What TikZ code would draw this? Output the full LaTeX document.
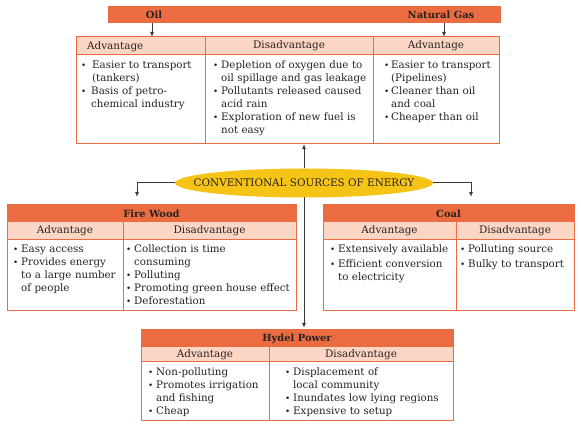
\documentclass[tikz,border=0pt]{standalone}
\usepackage{fontspec}
\setmainfont{DejaVu Serif}
\usetikzlibrary{arrows.meta,shapes.geometric}
\definecolor{orng}{RGB}{236,108,66}
\definecolor{pnk}{RGB}{252,214,196}
\definecolor{yel}{RGB}{246,196,22}
\definecolor{ink}{RGB}{40,34,34}
\newcommand{\myitem}[2][8pt]{\par\hangindent=#1\hangafter=1\noindent\makebox[#1][l]{\raisebox{0.1ex}{\scalebox{0.85}{\textbullet}}}#2}
\tikzset{
  cell/.style={draw=orng, line width=1pt, inner sep=0pt, outer sep=0pt, anchor=north west},
  hd/.style={cell, fill=pnk},
  ttl/.style={cell, fill=orng},
  body/.style={anchor=north west, inner sep=0pt, text=ink, align=left, text width=210pt,
    font=\fontsize{10.3}{13}\selectfont},
  hdtext/.style={inner sep=0pt, text=ink, font=\fontsize{10.4}{12}\selectfont},
  ttltext/.style={inner sep=0pt, text=ink, font=\bfseries\fontsize{9.9}{11}\selectfont},
  arr/.style={-{Latex[length=5pt,width=4pt]}, line width=1pt, draw=ink!90}
}
\begin{document}
\begin{tikzpicture}[x=1pt,y=-1pt]
\fill[white] (0,0) rectangle (581,427);
\useasboundingbox (0,0) rectangle (581,427);

% ---------- top bar and top table ----------
\node[ttl, minimum width=392pt, minimum height=16pt] (topbar) at (108,7) {};
\node[ttltext] (oiltxt) at (154,15) {Oil};
\node[ttltext] (gastxt) at (441,15) {Natural Gas};

\node[hd, minimum width=129pt, minimum height=18pt] (oilhd) at (76,37) {};
\node[hd, minimum width=168pt, minimum height=18pt] (dishd) at (205,37) {};
\node[hd, minimum width=126pt, minimum height=18pt] (gashd) at (373,37) {};
\node[cell, minimum width=129pt, minimum height=89pt] (oilbd) at (76,55) {};
\node[cell, minimum width=168pt, minimum height=89pt] (disbd) at (205,55) {};
\node[cell, minimum width=126pt, minimum height=89pt] (gasbd) at (373,55) {};

\node[hdtext, anchor=west] (oilhdl) at (87,46.5) {Advantage};
\node[hdtext] (dishdl) at (dishd.center) {Disadvantage};
\node[hdtext] (gashdl) at (gashd.center) {Advantage};

\node[body] (oiltx) at (81,55.5) {\myitem[11pt]{Easier to transport\newline(tankers)}\myitem[10pt]{Basis of petro-\newline chemical industry}\par};
\node[body] (distx) at (213,55.5) {\myitem{Depletion of oxygen due to\newline oil spillage and gas leakage}\myitem{Pollutants released caused\newline acid rain}\myitem{Exploration of new fuel is\newline not easy}\par};
\node[body] (gastx) at (384,55.5) {\myitem[7pt]{Easier to transport\newline (Pipelines)}\myitem[7pt]{Cleaner than oil\newline and coal}\myitem[7pt]{Cheaper than oil}\par};

\coordinate (oilx) at (152,0);
\coordinate (gasx) at (444,0);
\draw[arr] (topbar.south -| oilx) -- (oilhd.north -| oilx);
\draw[arr] (topbar.south -| gasx) -- (gashd.north -| gasx);

% ---------- ellipse ----------
\node[ellipse, fill=yel, minimum width=258pt, minimum height=29pt, inner sep=0pt, outer sep=0pt] (ell) at (304,183) {};
\node[inner sep=0pt, text=ink, font=\fontsize{10.4}{12}\selectfont] (elltxt) at (ell.center) {CONVENTIONAL SOURCES OF ENERGY};

% ---------- Fire Wood ----------
\node[ttl, minimum width=289pt, minimum height=17pt] (fwtt) at (7,205) {};
\node[hd, minimum width=116pt, minimum height=18pt] (fwahd) at (7,222) {};
\node[hd, minimum width=173pt, minimum height=18pt] (fwdhd) at (123,222) {};
\node[cell, minimum width=116pt, minimum height=71pt] (fwabd) at (7,240) {};
\node[cell, minimum width=173pt, minimum height=71pt] (fwdbd) at (123,240) {};
\node[ttltext] (fwttl) at (fwtt.center) {Fire Wood};
\node[hdtext] (fwahdl) at (fwahd.center) {Advantage};
\node[hdtext] (fwdhdl) at (fwdhd.center) {Disadvantage};
\node[body] (fwatx) at (13,239.5) {\myitem{Easy access}\myitem{Provides energy\newline to a large number\newline of people}\par};
\node[body] (fwdtx) at (126,239.5) {\myitem{Collection is time\newline consuming}\myitem{Polluting}\myitem{Promoting green house effect}\myitem{Deforestation}\par};

% ---------- Coal ----------
\node[ttl, minimum width=251pt, minimum height=17pt] (cltt) at (323,205) {};
\node[hd, minimum width=133pt, minimum height=18pt] (clahd) at (323,222) {};
\node[hd, minimum width=118pt, minimum height=18pt] (cldhd) at (456,222) {};
\node[cell, minimum width=133pt, minimum height=71pt] (clabd) at (323,240) {};
\node[cell, minimum width=118pt, minimum height=71pt] (cldbd) at (456,240) {};
\node[ttltext] (clttl) at (cltt.center) {Coal};
\node[hdtext] (clahdl) at (clahd.center) {Advantage};
\node[hdtext] (cldhdl) at (cldhd.center) {Disadvantage};
\node[body] (clatx) at (330,239.5) {\myitem{Extensively available}\vspace{2pt}\myitem{Efficient conversion\newline to electricity}\par};
\node[body] (cldtx) at (460,239.5) {\myitem{Polluting source}\vspace{2pt}\myitem{Bulky to transport}\par};

% ---------- Hydel Power ----------
\node[ttl, minimum width=312pt, minimum height=17pt] (hytt) at (141,330) {};
\node[hd, minimum width=128pt, minimum height=15pt] (hyahd) at (141,347) {};
\node[hd, minimum width=184pt, minimum height=15pt] (hydhd) at (269,347) {};
\node[cell, minimum width=128pt, minimum height=59pt] (hyabd) at (141,362) {};
\node[cell, minimum width=184pt, minimum height=59pt] (hydbd) at (269,362) {};
\node[ttltext] (hyttl) at (hytt.center) {Hydel Power};
\node[hdtext] (hyahdl) at (hyahd.center) {Advantage};
\node[hdtext] (hydhdl) at (hydhd.center) {Disadvantage};
\node[body] (hyatx) at (148,362.5) {\myitem{Non-polluting}\myitem{Promotes irrigation\newline and fishing}\myitem{Cheap}\par};
\node[body] (hydtx) at (285,362.5) {\myitem{Displacement of\newline local community}\myitem{Inundates low lying regions}\myitem{Expensive to setup}\par};

% ---------- connectors from ellipse ----------
\coordinate (fwx) at (137,0);
\coordinate (clx) at (471,0);
\draw[arr] (ell.north) -- (disbd.south -| ell.north);
\draw[arr, shorten >=2pt] (ell.south) -- (hytt.north -| ell.south);
\draw[arr, shorten >=8pt] (ell.west) -- (ell.west -| fwx) -- (fwtt.north -| fwx);
\draw[arr, shorten >=8pt] (ell.east) -- (ell.east -| clx) -- (cltt.north -| clx);
\end{tikzpicture}
\end{document}
